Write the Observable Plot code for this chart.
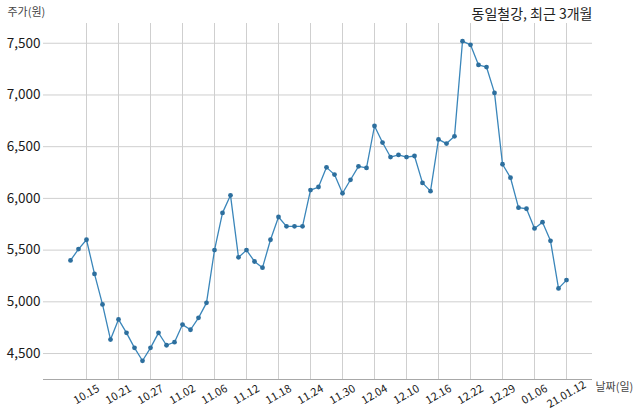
<!DOCTYPE html>
<html>
<head>
<meta charset="utf-8">
<script src="https://cdn.jsdelivr.net/npm/d3@7"></script>
<script src="https://cdn.jsdelivr.net/npm/@observablehq/plot@0.6"></script>
<style>
  html, body { margin: 0; padding: 0; background: #fff; }
</style>
</head>
<body>
<div id="chart"></div>
<script>
// Closing prices (원), trading days 2020-10-13 … 2021-01-12 (index 0..62)
const prices = [
  5400, 5510, 5600, 5270, 4975, 4635, 4830, 4700, 4555, 4430,
  4555, 4700, 4580, 4610, 4780, 4730, 4845, 4990, 5500, 5860,
  6030, 5430, 5500, 5390, 5330, 5600, 5820, 5730, 5730, 5730,
  6080, 6110, 6300, 6230, 6050, 6180, 6310, 6295, 6700, 6540,
  6400, 6420, 6400, 6410, 6150, 6070, 6570, 6530, 6600, 7520,
  7485, 7290, 7270, 7020, 6330, 6200, 5910, 5900, 5710, 5770,
  5590, 5130, 5210
];
const tickIndex = [2, 6, 10, 14, 18, 22, 26, 30, 34, 38, 42, 46, 50, 54, 58, 62];
const tickLabels = ["10.15", "10.21", "10.27", "11.02", "11.06", "11.12", "11.18", "11.24",
                    "11.30", "12.04", "12.10", "12.16", "12.22", "12.29", "01.06", "21.01.12"];
const yTicks = [4500, 5000, 5500, 6000, 6500, 7000, 7500];
const title = "동일철강, 최근 3개월";
const yLabel = "주가(원)";
const xLabel = "날짜(일)";

const data = prices.map((v, i) => ({i, v}));
const ticks = tickIndex.map((i, k) => ({i, label: tickLabels[k]}));

const font = "'Noto Sans CJK KR', 'Noto Sans', sans-serif";

const chart = Plot.plot({
  width: 640,
  height: 419,
  marginLeft: 43,
  marginRight: 48,
  marginTop: 23,
  marginBottom: 40,
  style: {fontFamily: font, fontSize: "13px", color: "#222", background: "#fff", overflow: "visible"},
  x: {type: "linear", domain: [-3.375, 65.25], axis: null},
  y: {domain: [4249, 7691], axis: null},
  marks: [
    Plot.gridY(yTicks, {stroke: "#cfcfcf", strokeOpacity: 1, strokeWidth: 1}),
    Plot.gridX(tickIndex, {stroke: "#cfcfcf", strokeOpacity: 1, strokeWidth: 1}),
    Plot.axisY(yTicks, {tickSize: 0, tickPadding: 3, tickFormat: d3.format(","), fontSize: 13.5, fill: "#1a1a1a", label: null}),
    Plot.ruleY([4249], {stroke: "#a8a8a8", strokeWidth: 1}),
    Plot.line(data, {x: "i", y: "v", stroke: "#3a86ba", strokeWidth: 1.3}),
    Plot.dot(data, {x: "i", y: "v", r: 2.4, fill: "#2d6f9e", stroke: "none"}),
    Plot.text(ticks, {x: "i", text: "label", frameAnchor: "bottom", dy: 15, rotate: -30,
      textAnchor: "middle", lineAnchor: "middle", fontSize: 11, fill: "#1a1a1a"}),
    Plot.text([yLabel], {frameAnchor: "top-left", dx: -36, dy: -11, textAnchor: "start",
      lineAnchor: "middle", fontSize: 11, fill: "#444"}),
    Plot.text([title], {frameAnchor: "top-right", dx: 0, dy: -9, textAnchor: "end",
      lineAnchor: "middle", fontSize: 14, fill: "#222"}),
    Plot.text([xLabel], {frameAnchor: "bottom-right", dx: 3, dy: 8, textAnchor: "start",
      lineAnchor: "middle", fontSize: 11, fill: "#444"})
  ]
});
document.getElementById("chart").appendChild(chart);
</script>
</body>
</html>
